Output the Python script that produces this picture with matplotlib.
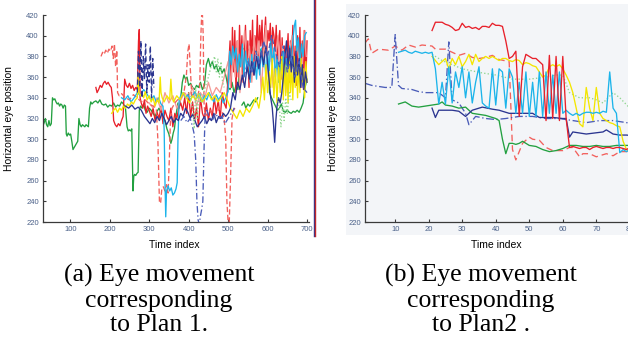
import numpy as np
import matplotlib.pyplot as plt
from matplotlib.patches import Rectangle
from matplotlib.lines import Line2D

plt.rcParams['font.family'] = ['Liberation Sans', 'DejaVu Sans']

# ---------------- data: panel (a), plan 1 ----------------
g1_x = [31, 34, 37, 40, 43, 46, 49, 52,
        55, 58, 61, 64, 67, 70, 73, 76, 79, 82, 85, 88,
        90, 92, 95, 98, 101,
        104, 107, 110, 113, 116, 119,
        122, 125, 128, 131, 134, 137, 140, 143, 146,
        149, 152, 155, 160, 165, 170, 175, 180, 185, 190, 195, 200, 205, 210, 215, 220, 225, 230, 235, 240,
        244, 247, 250, 253, 256,
        259, 261, 263, 266, 269, 272,
        275, 278, 282, 286, 290, 295, 300, 305, 310, 315, 320, 325, 330, 335, 340, 345, 350, 355, 358, 361, 364, 367, 370, 373, 376,
        380, 384, 388, 392, 396, 400, 405, 410, 415, 420, 425, 430, 435, 440,
        445, 450, 455, 460, 465, 470, 475, 480, 485, 490, 495, 500, 505, 510, 515, 520, 525,
        530, 535, 540, 545, 550, 555, 560, 565, 570, 575, 580, 585, 590, 595, 600,
        605, 610, 615, 620, 625, 630, 635, 640,
        645, 650, 655, 660, 665, 670, 675, 680, 685, 690, 695, 700]
g1_y = [313, 316, 320, 314, 312, 318, 313, 315,
        340, 338, 339, 336, 334, 335, 332, 334, 333, 330, 333, 332,
        305, 303, 306, 304, 305,
        298, 290, 292, 294, 296, 298,
        320, 314, 312, 314, 313, 312, 314, 313, 312,
        330, 336, 334, 336, 337, 335, 338, 334, 333, 334, 331, 333, 332, 335, 331, 333, 332, 336, 334, 330,
        312, 308, 309, 308, 310,
        250, 264, 266, 265, 267, 268,
        328, 332, 330, 334, 328, 326, 330, 328, 325, 322, 327, 330, 326, 322, 318, 310, 305, 296, 300, 306, 310, 320, 328, 335, 330,
        340, 355, 362, 358, 360, 352, 354, 350, 348, 352, 350, 355, 348, 352,
        372, 378, 370, 375, 368, 372, 365, 370, 364, 368, 360, 350, 348, 355, 345, 352, 348,
        380, 386, 388, 384, 387, 385, 388, 384, 386, 383, 387, 385, 382, 386, 380,
        345, 340, 336, 332, 328, 330, 334, 327,
        326, 328, 326, 325, 327, 326, 328, 326, 330, 335, 350, 358]

g2_x = [535, 540, 545, 550, 555, 560, 565, 570, 575]
g2_y = [333, 336, 330, 334, 332, 335, 338, 336, 340]

rd_x = [178, 182, 186, 190, 194, 198, 202, 206, 209, 212,
        215, 218, 220, 224, 230, 240, 250, 260, 270, 280,
        290, 300, 310, 318, 322, 326, 329, 332, 336, 340,
        344, 348, 351, 354, 358, 365, 372, 380, 388, 394,
        398, 401, 404, 408, 415, 422, 428, 431, 433, 435,
        437, 439, 442, 448, 455, 462, 470, 478, 485, 490,
        494, 497, 500, 503, 506, 510, 515, 520]
rd_y = [380, 384, 382, 386, 383, 387, 385, 390, 378, 392,
        370, 386, 345, 342, 344, 340, 338, 343, 340, 336,
        338, 334, 332, 330, 300, 240, 238, 252, 254, 250,
        256, 248, 280, 320, 330, 335, 338, 340, 345, 360,
        385, 392, 370, 342, 345, 340, 350, 400, 420, 420,
        400, 335, 322, 325, 328, 322, 325, 330, 326, 320,
        300, 240, 220, 220, 260, 320, 330, 328]

r_x = [165, 168, 172, 176, 180, 184, 188, 192, 196, 200,
       204, 207, 210, 214, 218, 222, 226, 230, 234, 238,
       242, 246, 250, 254, 258, 262, 266, 270, 273, 275,
       277, 280, 284, 288, 292, 296, 300, 305, 310, 315,
       320, 325, 330, 335, 340, 345, 350, 355, 360, 365,
       370, 375, 380, 385, 390, 395, 400, 405, 410, 415,
       420, 425, 430, 435, 440, 445, 450, 455, 460, 465,
       470, 475, 480, 485, 490, 495, 500, 505, 508, 511,
       514, 517, 520, 523, 526, 529, 532, 535, 538, 541,
       544, 547, 550, 553, 556, 559, 562, 565, 568, 571,
       574, 577, 580, 583, 586, 589, 592, 595, 598, 601,
       604, 607, 610, 613, 616, 619, 622, 625, 628, 631,
       634, 637, 640, 643, 646, 649, 652, 655, 658, 661,
       664, 667, 670, 673, 676, 679, 682, 685, 688, 691,
       694, 697, 700]
r_y = [350, 345, 348, 352, 350, 354, 356, 353, 355, 352,
       350, 340, 318, 314, 312, 315, 313, 318, 322, 358,
       352, 350, 354, 349, 352, 347, 350, 348, 395, 406,
       340, 335, 330, 338, 325, 332, 328, 322, 330, 318,
       326, 320, 332, 315, 328, 322, 318, 330, 312, 325,
       320, 330, 335, 328, 340, 325, 345, 322, 336, 318,
       330, 312, 340, 325, 320, 335, 318, 330, 322, 340,
       325, 338, 320, 345, 335, 330, 360, 395, 350, 408,
       365, 405, 345, 395, 360, 410, 370, 400, 355, 380,
       410, 372, 395, 350, 405, 378, 415, 362, 400, 385,
       420, 378, 410, 390, 415, 370, 400, 418, 382, 405,
       395, 412, 375, 408, 400, 385, 410, 368, 395, 405,
       358, 398, 352, 390, 365, 380, 402, 355, 395, 372,
       410, 362, 390, 352, 400, 365, 408, 358, 395, 348,
       405, 356, 395]

p_x = [300, 310, 320, 330, 340, 350, 360, 370, 380, 390,
       400, 410, 420, 430, 440, 450, 460, 470, 480, 490,
       500, 506, 512, 518, 524, 530, 536, 542, 548, 554,
       560, 566, 572, 578, 584, 590, 596, 602, 608, 614,
       620, 626, 632, 638, 644, 650, 656, 662, 668, 674,
       680, 686, 692, 698]
p_y = [335, 330, 340, 328, 345, 335, 342, 330, 338, 345,
       340, 350, 332, 345, 338, 355, 342, 350, 345, 360,
       375, 350, 385, 360, 395, 345, 380, 405, 365, 390,
       355, 400, 370, 395, 345, 385, 410, 360, 390, 350,
       380, 400, 355, 390, 370, 345, 385, 400, 360, 395,
       375, 350, 405, 380]

c_x = [230, 238, 246, 254, 262, 270, 278, 286, 294, 300,
       306, 312, 318, 324, 330, 335, 338, 340, 342, 344,
       348, 352, 356, 360, 364, 368, 371, 373, 376, 380,
       386, 392, 398, 404, 410, 416, 422, 428, 434, 440,
       446, 452, 458, 464, 470, 476, 482, 488, 494, 500,
       504, 508, 512, 516, 520, 524, 528, 532, 536, 540,
       544, 548, 552, 556, 560, 564, 568, 572, 576, 580,
       584, 588, 592, 596, 600, 604, 608, 612, 616, 620,
       624, 628, 632, 636, 640, 644, 648, 652, 656, 660,
       664, 668, 671, 674, 678, 682, 686, 690, 694, 698]
c_y = [340, 338, 342, 336, 340, 345, 342, 348, 344, 340,
       338, 342, 336, 340, 334, 332, 310, 260, 225, 250,
       255, 250, 253, 246, 248, 252, 258, 300, 338, 342,
       345, 340, 343, 338, 342, 346, 340, 344, 336, 342,
       338, 345, 340, 336, 343, 338, 342, 335, 340, 346,
       385, 372, 390, 378, 388, 365, 382, 370, 392, 360,
       385, 368, 378, 355, 382, 365, 375, 358, 380, 362,
       388, 370, 380, 358, 384, 366, 395, 372, 388, 360,
       380, 355, 375, 362, 385, 358, 378, 365, 390, 370,
       395, 410, 415, 385, 398, 372, 392, 380, 400, 403]

y_x = [205, 210, 215, 220, 225, 230, 235, 240, 245, 250,
       255, 260, 265, 270, 272, 274, 278, 282, 286, 290,
       295, 300, 305, 310, 315, 320, 325, 328, 330, 333,
       338, 345, 352, 355, 358, 362, 370, 378, 386, 394,
       402, 410, 418, 426, 434, 442, 450, 458, 466, 474,
       482, 490, 498, 506, 514, 522, 530, 538, 546, 554,
       562, 570, 578, 584, 588, 592, 596, 600, 604, 608,
       612, 616, 620, 624, 628, 632, 636, 640, 643, 646,
       649, 652, 655, 658, 661, 664, 667, 670, 673, 676,
       679, 682, 685, 688, 691, 694, 697, 700]
y_y = [325, 328, 330, 326, 330, 328, 332, 330, 334, 332,
       336, 334, 338, 340, 362, 345, 342, 344, 340, 346,
       338, 342, 336, 340, 332, 338, 335, 360, 345, 340,
       336, 342, 338, 358, 340, 336, 342, 338, 345, 340,
       335, 342, 338, 344, 336, 340, 345, 338, 342, 336,
       340, 345, 338, 330, 325, 320, 328, 322, 330, 326,
       332, 340, 330, 345, 360, 338, 372, 345, 365, 350,
       378, 340, 368, 335, 372, 345, 380, 338, 375, 342,
       370, 335, 378, 345, 372, 338, 380, 350, 375, 340,
       372, 345, 378, 352, 368, 340, 375, 355]

n_x = [240, 248, 256, 264, 272, 280, 288, 296, 302, 308,
       314, 320, 326, 332, 338, 344, 350, 356, 362, 368,
       374, 380, 386, 392, 398, 404, 410, 416, 422, 428,
       434, 440, 446, 452, 458, 464, 470, 476, 482, 488,
       494, 500, 506, 512, 518, 524, 530, 536, 542, 548,
       554, 560, 566, 572, 578, 584, 590, 596, 602, 608,
       612, 615, 618, 621, 624, 628, 632, 636, 640, 644,
       648, 652, 656, 660, 664, 668, 672, 676, 680, 684,
       688, 692, 696, 700]
n_y = [332, 330, 333, 329, 331, 328, 322, 318, 315, 320,
       316, 322, 318, 325, 320, 314, 318, 322, 316, 320,
       318, 325, 322, 330, 326, 320, 324, 318, 312, 315,
       318, 322, 315, 320, 318, 325, 316, 322, 320, 325,
       322, 325, 330, 345, 338, 355, 348, 362, 350, 370,
       358, 375, 362, 380, 368, 385, 372, 390, 365, 340,
       330, 315, 297, 318, 332, 340, 335, 345, 360, 380,
       395, 370, 388, 365, 380, 355, 385, 362, 378, 350,
       372, 348, 365, 355]

nd1_x = [270, 273, 276, 279, 282, 285, 288, 291, 294, 297, 300, 303, 306, 309, 312]
nd1_y = [345, 385, 350, 395, 340, 380, 358, 392, 345, 372, 355, 390, 340, 378, 350]
nd2_x = [540, 550, 560, 570, 580, 590, 600, 610, 620, 630, 640, 650, 660, 670, 680, 690, 700]
nd2_y = [360, 375, 365, 385, 372, 395, 380, 400, 385, 370, 390, 365, 380, 360, 375, 350, 345]

ndd_x = [380, 388, 396, 404, 410, 414, 418, 421, 424, 427, 430, 433, 436, 439, 442,
         446, 452, 460, 468, 476, 484, 492, 500, 508, 516]
ndd_y = [318, 322, 316, 320, 312, 305, 280, 240, 222, 218, 226, 232, 240, 290, 325,
         328, 322, 318, 325, 320, 322, 315, 320, 325, 330]

gd1_x = [400, 405, 410, 414, 418, 422, 426, 430, 436, 442, 450, 458, 466, 470, 474, 478, 482, 486, 490]
gd1_y = [345, 340, 330, 310, 350, 320, 345, 335, 342, 350, 360, 372, 380, 365, 378, 360, 375, 355, 350]
gd2_x = [625, 630, 634, 638, 642, 646, 650, 655, 660]
gd2_y = [340, 330, 312, 335, 318, 340, 325, 345, 338]

# ---------------- data: panel (b), plan 2 ----------------
b_red_x = np.arange(21, 83)
b_red_y = [405, 413, 413, 413, 411, 410, 408, 405, 406, 412,
           408, 409, 407, 408, 406, 409, 409, 408, 412, 410,
           410, 409, 395, 378, 380, 385, 322, 370, 382, 380,
           378, 378, 375, 372, 318, 381, 320, 380, 318, 380,
           320, 292, 293, 292, 291, 292, 292, 290, 292, 293,
           292, 291, 292, 292, 291, 292, 292, 291, 290, 292,
           291, 290]

b_rdash_x = [1, 2, 3, 5, 8, 10, 12, 14, 16, 18, 21, 22, 25, 27, 29, 31, 33, 35, 37, 39, 41,
             44, 45, 46, 48, 50, 51, 53, 55, 57, 60, 62, 63, 65, 66, 68, 70, 73, 75, 77, 79, 82]
b_rdash_y = [393, 397, 383, 387, 386, 390, 386, 391, 389, 391, 390, 387, 387, 384, 381, 383, 379, 378, 379, 381, 377,
             375, 290, 280, 296, 302, 300, 299, 292, 289, 289, 292, 292, 283, 286, 286, 283, 286, 284, 288, 288, 290]

b_cyan_x = np.arange(11, 83)
b_cyan_y = [384, 385, 386, 384, 383, 385, 384, 383, 384, 383,
            384, 368, 334, 355, 334, 370, 335, 365, 350, 370,
            340, 365, 335, 355, 370, 335, 332, 330, 368, 333,
            368, 365, 330, 368, 360, 325, 355, 325, 365, 322,
            355, 322, 365, 322, 365, 325, 362, 325, 365, 325,
            328, 325, 323, 325, 323, 325, 326, 326, 325, 326,
            325, 327, 326, 365, 330, 325, 287, 290, 288, 290,
            295, 290]

b_yel_x = np.arange(21, 81)
b_yel_y = [380, 376, 372, 375, 378, 368, 378, 372, 380, 370,
           375, 382, 372, 382, 375, 378, 380, 378, 380, 378,
           376, 378, 378, 376, 375, 377, 376, 372, 374, 373,
           371, 370, 365, 360, 362, 370, 372, 370, 372, 368,
           362, 355, 345, 330, 315, 312, 350, 330, 318, 350,
           325, 320, 318, 316, 315, 313, 312, 298, 290, 288]

b_grn_x = [11, 13, 15, 17, 19, 21, 23, 24, 25, 27, 29, 31, 32, 33, 35, 37, 39, 40, 41, 42, 43, 44,
           45, 46, 47, 48, 49, 50, 52, 54, 56, 58, 60, 62, 64, 66, 68, 70, 72, 74, 76, 78, 80]
b_grn_y = [334, 336, 332, 331, 332, 333, 334, 336, 333, 332, 330, 331, 328, 325, 324, 323, 321, 320, 318, 300, 286, 296,
           296, 295, 296, 298, 296, 294, 293, 290, 288, 289, 291, 294, 294, 293, 293, 294, 293, 293, 294, 294, 294]

b_navy_x = [21, 22, 23, 25, 27, 29, 31, 32, 33, 36, 39, 41, 44, 47, 51, 53, 57, 60, 61, 62, 63, 67, 72, 73, 75, 77, 79, 82]
b_navy_y = [330, 321, 328, 328, 328, 327, 322, 325, 328, 331, 329, 328, 325, 325, 325, 321, 321, 320, 320, 302, 307, 305,
            307, 309, 305, 304, 304, 303]

b_ndd_x = [1, 3, 5, 7, 9, 10, 11, 12, 15, 17, 19, 21, 23, 25, 26, 27, 29, 31, 32, 34, 37, 40, 43, 47, 51, 55, 59, 63,
           67, 71, 75, 79, 82]
b_ndd_y = [354, 352, 351, 350, 350, 401, 352, 349, 348, 346, 345, 345, 345, 340, 394, 338, 335, 325, 314, 322, 320, 319,
           320, 322, 322, 320, 320, 318, 316, 318, 318, 316, 315]

b_gdot_x = [21, 24, 27, 30, 33, 36, 40, 45, 50, 55, 58, 60, 62, 65, 68, 70, 72, 75, 77, 80, 82]
b_gdot_y = [382, 376, 372, 368, 366, 364, 362, 358, 358, 360, 362, 362, 345, 340, 340, 338, 335, 345, 340, 330, 318]

yticks = [220, 240, 260, 280, 300, 320, 340, 360, 380, 400, 420]
xticks_a = [100, 200, 300, 400, 500, 600, 700]
xticks_b = [10, 20, 30, 40, 50, 60, 70, 80]

# colours
RED = '#e8202a'
SALMON = '#f2605c'
PINK = '#f49a96'
CYAN = '#1cb4ea'
YEL = '#f3e600'
GRN = '#22a040'
NAVY = '#2b3590'
BLUE = '#4a5cb8'
LGRN = '#90d690'

fig = plt.figure(figsize=(6.28, 3.44), dpi=100)

# light grey panel behind (b)
fig.patches.append(Rectangle((346 / 628, 1 - 235 / 344), (628 - 346) / 628, (235 - 4) / 344,
                             transform=fig.transFigure, facecolor='#f3f5f8', edgecolor='none', zorder=-10))

ax1 = fig.add_axes([43 / 628, 122 / 344, 266 / 628, 207 / 344])
ax2 = fig.add_axes([365 / 628, 122 / 344, 295 / 628, 207 / 344])
ax1.set_facecolor('none')
ax2.set_facecolor('none')

lw = 0.95
ax1.plot(g1_x, g1_y, color=GRN, lw=lw)
ax1.plot(g2_x, g2_y, color=GRN, lw=lw)
ax1.plot(r_x, r_y, color=RED, lw=lw)
ax1.plot(p_x, p_y, color=PINK, lw=lw)
ax1.plot(rd_x, rd_y, color=SALMON, lw=lw, ls=(0, (4, 2)))
ax1.plot(c_x, c_y, color=CYAN, lw=lw)
ax1.plot(y_x, y_y, color=YEL, lw=lw)
ax1.plot(n_x, n_y, color=NAVY, lw=lw)
ax1.plot(nd1_x, nd1_y, color=NAVY, lw=lw, ls=(0, (4, 2)))
ax1.plot(nd2_x, nd2_y, color=BLUE, lw=lw, ls=(0, (4, 2)))
ax1.plot(ndd_x, ndd_y, color=BLUE, lw=lw, ls=(0, (5, 2, 1, 2)))
ax1.plot(gd1_x, gd1_y, color=LGRN, lw=lw, ls=':')
ax1.plot(gd2_x, gd2_y, color=LGRN, lw=lw, ls=':')

ax2.plot(b_gdot_x, b_gdot_y, color=LGRN, lw=lw, ls=':')
ax2.plot(b_rdash_x, b_rdash_y, color=SALMON, lw=lw, ls=(0, (5, 3)))
ax2.plot(b_ndd_x, b_ndd_y, color=BLUE, lw=lw, ls=(0, (6, 2, 1, 2)))
ax2.plot(b_grn_x, b_grn_y, color=GRN, lw=lw)
ax2.plot(b_navy_x, b_navy_y, color=NAVY, lw=lw)
ax2.plot(b_yel_x, b_yel_y, color=YEL, lw=lw)
ax2.plot(b_cyan_x, b_cyan_y, color=CYAN, lw=lw)
ax2.plot(b_red_x, b_red_y, color=RED, lw=lw)

for ax, xt in ((ax1, xticks_a), (ax2, xticks_b)):
    ax.set_ylim(220, 420)
    ax.set_yticks(yticks)
    ax.set_xticks(xt)
    for s in ('top', 'right'):
        ax.spines[s].set_visible(False)
    for s in ('left', 'bottom'):
        ax.spines[s].set_color('#3a3a3a')
        ax.spines[s].set_linewidth(0.9)
    ax.tick_params(direction='in', length=2.5, width=0.8, colors='#3a3a3a',
                   labelsize=5.5, labelcolor='#4a6088', pad=3)
    ax.set_xlabel('Time index', fontsize=7.5)
    ax.set_ylabel('Horizontal eye position', fontsize=7.5)

ax1.set_xlim(31, 705)
ax2.set_xlim(1, 89)
ax1.xaxis.set_label_coords(0.4925, -0.087)
ax1.yaxis.set_label_coords(-0.11, 0.5)
ax2.xaxis.set_label_coords(0.444, -0.087)
ax2.yaxis.set_label_coords(-0.09, 0.5)

# border lines at right of panel (a)
fig.add_artist(Line2D([313.5 / 628, 313.5 / 628], [1 - 236 / 344, 1], color='#2b3590', lw=1.0))
fig.add_artist(Line2D([315.3 / 628, 315.3 / 628], [1 - 236 / 344, 1], color='#c0282d', lw=1.0))

cap = dict(ha='center', va='center', fontsize=18.5, family='Liberation Serif', linespacing=1.15)
fig.text(159 / 628, 1 - 300 / 344, '(a) Eye movement\ncorresponding\nto Plan 1.', **cap)
fig.text(481 / 628, 1 - 300 / 344, '(b) Eye movement\ncorresponding\nto Plan2 .', **cap)

fig.savefig('out.png', dpi=100)
